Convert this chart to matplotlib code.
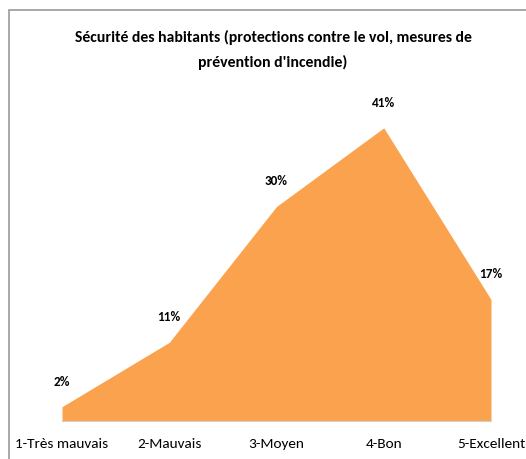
import matplotlib.pyplot as plt
from matplotlib.patches import Rectangle

categories = ['1-Très mauvais', '2-Mauvais', '3-Moyen', '4-Bon', '5-Excellent']
values = [2, 11, 30, 41, 17]
labels = ['2%', '11%', '30%', '41%', '17%']

title = "Sécurité des habitants (protections contre le vol, mesures de\nprévention d'incendie)"

plt.rcParams['font.family'] = ['Carlito', 'Liberation Sans Narrow', 'Roboto Condensed',
                               'Open Sans Condensed', 'Archivo Narrow', 'DejaVu Sans']

fig = plt.figure(figsize=(5.26, 4.59), dpi=100)

# chart frame
fig.patches.append(Rectangle((9 / 526, -0.05), 1.2, 1 - 10 / 459 + 0.05,
                             transform=fig.transFigure, fill=False,
                             edgecolor='#9a9a9a', linewidth=1.2))

ax = fig.add_axes([62 / 526, 0.0828, (491 - 62) / 526, 0.701])
x = list(range(1, len(values) + 1))
ax.fill_between(x, values, 0, color='#FBA24F', linewidth=0)
ax.set_xlim(1, 5)
ax.set_ylim(0, 45)

for xi, v, lab in zip(x, values, labels):
    ax.annotate(lab, (xi, v), xytext=(0, 18), textcoords='offset points',
                ha='center', va='center', fontsize=9.5, fontweight='bold')

for s in ['top', 'right', 'left']:
    ax.spines[s].set_visible(False)
ax.spines['bottom'].set_color('#d0d0d0')
ax.set_yticks([])
ax.set_xticks(x)
ax.set_xticklabels(categories, fontsize=11)
ax.tick_params(axis='x', length=0, pad=12)

fig.text(273 / 526, 1 - 50 / 459, title, ha='center', va='center',
         fontsize=11.3, fontweight='bold', linespacing=1.75)

fig.savefig('out.png', dpi=100)
